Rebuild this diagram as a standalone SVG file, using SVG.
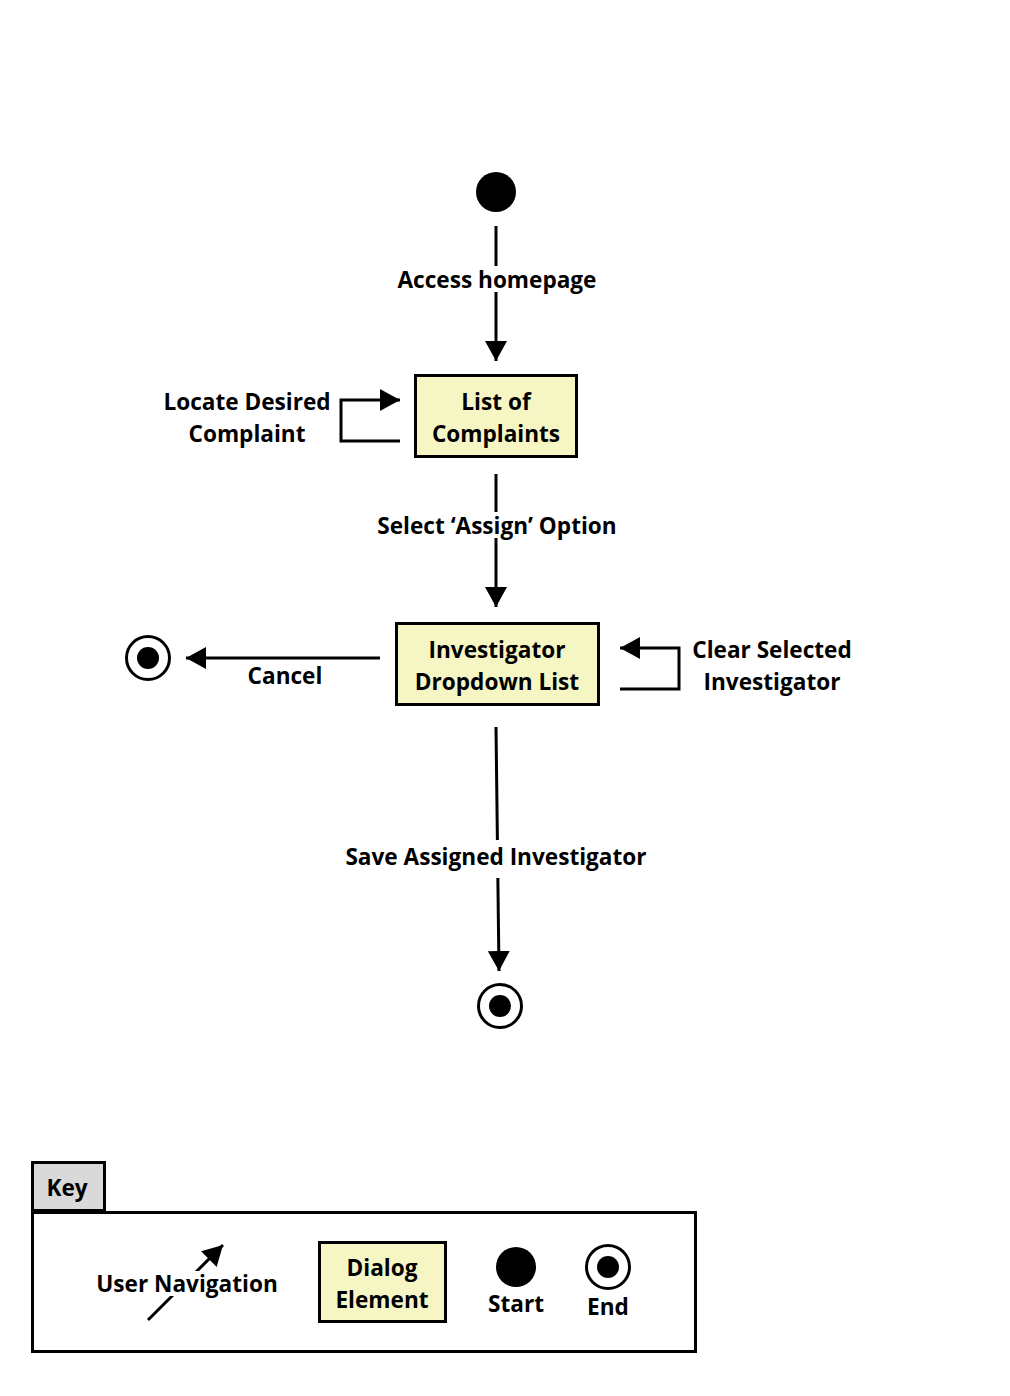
<svg xmlns="http://www.w3.org/2000/svg" width="1010" height="1396" viewBox="0 0 1010 1396">
<defs>
<marker id="ah" viewBox="0 0 20 22" refX="20" refY="11" markerWidth="20" markerHeight="22" markerUnits="userSpaceOnUse" orient="auto">
<path d="M0,0 L20,11 L0,22 Z" fill="#000"/>
</marker>
<style>
.t{font-family:"Open Sans","Noto Sans","DejaVu Sans",sans-serif;font-weight:bold;font-size:22.6px;fill:#000;text-anchor:middle}
.box{fill:#F6F6C4;stroke:#000;stroke-width:3}
.ln{fill:none;stroke:#000;stroke-width:3}
.bg{fill:#fff}
</style>
</defs>
<rect width="1010" height="1396" fill="#fff"/>
<g id="connectors">
<line class="ln" x1="496" y1="226" x2="496" y2="361" marker-end="url(#ah)"/>
<rect class="bg" x="390" y="266" width="214" height="26"/>
<text class="t" x="497" y="288">Access homepage</text>
<path class="ln" d="M400,441 H341 V400 H400" marker-end="url(#ah)"/>
<line class="ln" x1="496" y1="474" x2="496" y2="607" marker-end="url(#ah)"/>
<rect class="bg" x="368" y="512" width="258" height="26"/>
<text class="t" x="497" y="534">Select ‘Assign’ Option</text>
<line class="ln" x1="380" y1="658" x2="186" y2="658" marker-end="url(#ah)"/>
<text class="t" x="285" y="684">Cancel</text>
<path class="ln" d="M620,689 H679 V648 H620" marker-end="url(#ah)"/>
<line class="ln" x1="496" y1="727" x2="499" y2="971" marker-end="url(#ah)"/>
<rect class="bg" x="336" y="840" width="320" height="38"/>
<text class="t" x="496" y="865">Save Assigned Investigator</text>
</g>
<g id="start">
<circle cx="496" cy="192" r="20" fill="#000"/>
</g>
<g id="list-of-complaints">
<rect class="box" x="415.5" y="375.5" width="161" height="81"/>
<text class="t" x="496" y="410">List of</text>
<text class="t" x="496" y="442">Complaints</text>
</g>
<g id="locate-label">
<text class="t" x="247" y="410">Locate Desired</text>
<text class="t" x="247" y="442">Complaint</text>
</g>
<g id="investigator-dropdown">
<rect class="box" x="396.5" y="623.5" width="202" height="81"/>
<text class="t" x="497" y="658">Investigator</text>
<text class="t" x="497" y="690">Dropdown List</text>
</g>
<g id="clear-label">
<text class="t" x="772" y="658">Clear Selected</text>
<text class="t" x="772" y="690">Investigator</text>
</g>
<g id="end-cancel">
<circle cx="148" cy="658" r="21.5" fill="#fff" stroke="#000" stroke-width="3"/>
<circle cx="148" cy="658" r="11" fill="#000"/>
</g>
<g id="end-save">
<circle cx="500" cy="1006" r="21.5" fill="#fff" stroke="#000" stroke-width="3"/>
<circle cx="500" cy="1006" r="11" fill="#000"/>
</g>
<g id="key">
<rect x="32.5" y="1162.5" width="72" height="48" fill="#D9D9D9" stroke="#000" stroke-width="3"/>
<text class="t" x="67" y="1196">Key</text>
<rect x="32.5" y="1212.5" width="663" height="139" fill="#fff" stroke="#000" stroke-width="3"/>
<line class="ln" x1="148" y1="1320" x2="223" y2="1245" marker-end="url(#ah)"/>
<rect class="bg" x="92" y="1271" width="190" height="25"/>
<text class="t" x="187" y="1292">User Navigation</text>
<rect class="box" x="319.5" y="1242.5" width="126" height="79"/>
<text class="t" x="382" y="1276">Dialog</text>
<text class="t" x="382" y="1308">Element</text>
<circle cx="516" cy="1267" r="20" fill="#000"/>
<text class="t" x="516" y="1312">Start</text>
<circle cx="608" cy="1267" r="21.5" fill="#fff" stroke="#000" stroke-width="3"/>
<circle cx="608" cy="1267" r="11" fill="#000"/>
<text class="t" x="608" y="1315">End</text>
</g>
</svg>
